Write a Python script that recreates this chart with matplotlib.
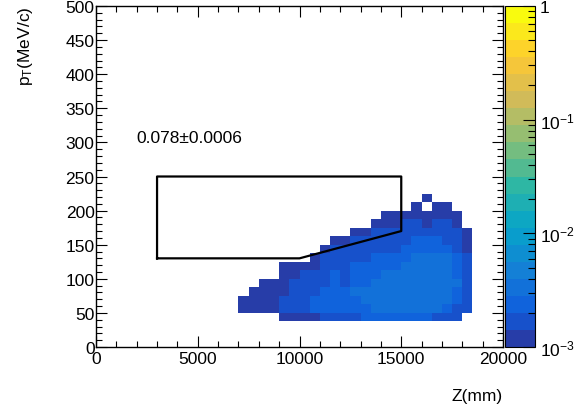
import numpy as np
import matplotlib
matplotlib.use("Agg")
import matplotlib.pyplot as plt
from matplotlib.colors import LinearSegmentedColormap, ListedColormap, LogNorm
from matplotlib.ticker import FixedLocator, LogLocator, NullFormatter, MultipleLocator

plt.rcParams['font.family'] = ['Liberation Sans', 'DejaVu Sans']
plt.rcParams['mathtext.fontset'] = 'custom'
plt.rcParams['mathtext.rm'] = 'Liberation Sans'
plt.rcParams['mathtext.it'] = 'Liberation Sans:italic'

# binning: 40 x 40 cells over Z 0..20000 mm and pT 0..500 MeV/c
z_edges = np.linspace(0, 20000, 41)
pt_edges = np.linspace(0, 500, 41)

# cell contents, one string per pT row (row 3 up to row 17),
# columns are Z bins 14..36; digit = colour band, 0 = empty
first_row = 3
first_col = 14
cell_rows = [
    "00001111222233333332220",
    "11112223333334444444322",
    "11112223333344444444432",
    "01111222333444444444432",
    "00111222232334444444442",
    "00001122232333444444432",
    "00001111222333334444432",
    "00000001222223333444432",
    "00000000122222223333321",
    "00000000011222222333221",
    "00000000000112222222221",
    "00000000000001112212210",
    "00000000000000111111110",
    "00000000000000000101100",
    "00000000000000000010000",
]
band_values = [0.0, 0.0012, 0.0017, 0.0024, 0.0033]

# selection polygon
poly_z = [3000, 3000, 15000, 15000, 10000, 3000]
poly_pt = [130, 250, 250, 170, 130, 130]
frac_text = "0.078\u00b10.0006"

H = np.zeros((40, 40))
for r, row in enumerate(cell_rows):
    for c, ch in enumerate(row):
        H[first_row + r, first_col + c] = band_values[int(ch)]
H = np.ma.masked_less_equal(H, 0)

# ROOT kBird palette, 20 contour levels
stops = [0.0, 0.125, 0.25, 0.375, 0.5, 0.625, 0.75, 0.875, 1.0]
red = [0.2082, 0.0592, 0.0780, 0.0232, 0.1802, 0.5301, 0.8186, 0.9956, 0.9764]
green = [0.1664, 0.3599, 0.5041, 0.6419, 0.7178, 0.7492, 0.7328, 0.7862, 0.9832]
blue = [0.5293, 0.8684, 0.8385, 0.7914, 0.6425, 0.4662, 0.3499, 0.1968, 0.0539]
bird = LinearSegmentedColormap.from_list(
    "bird", list(zip(stops, zip(red, green, blue))), N=255)
ncont = 20
cols = [bird(int((k + 0.99) * 255 / ncont) / 254) for k in range(ncont)]
cmap = ListedColormap(cols)

fig = plt.figure(figsize=(5.79, 4.14), dpi=100)
ax = fig.add_axes([96 / 579, 66 / 414, 407 / 579, 341 / 414])
cax = fig.add_axes([505 / 579, 66 / 414, 30 / 579, 341 / 414])

mesh = ax.pcolormesh(z_edges, pt_edges, H, cmap=cmap,
                     norm=LogNorm(vmin=1e-3, vmax=1), shading='flat')
ax.plot(poly_z, poly_pt, color='black', lw=1.6)
ax.text(2000, 300, frac_text, fontsize=12.5)

ax.set_xlim(0, 20000)
ax.set_ylim(0, 500)
ax.xaxis.set_major_locator(MultipleLocator(5000))
ax.xaxis.set_minor_locator(MultipleLocator(1000))
ax.yaxis.set_major_locator(MultipleLocator(50))
ax.yaxis.set_minor_locator(MultipleLocator(10))
ax.tick_params(which='both', direction='in', top=True, right=True,
               labelsize=12.5, width=0.8)
ax.tick_params(which='major', length=8)
ax.tick_params(which='minor', length=4)
ax.tick_params(axis='x', pad=3)
ax.tick_params(axis='y', pad=1)
for s in ax.spines.values():
    s.set_linewidth(1.0)

ax.set_xlabel("Z(mm)", fontsize=12.5, loc='right', labelpad=16)
ax.set_ylabel(r"p$_{\mathrm{T}}$(MeV/c)", fontsize=12.5, loc='top', labelpad=22)

cb = fig.colorbar(mesh, cax=cax)
cb.outline.set_linewidth(0.8)
cax.yaxis.set_major_locator(FixedLocator([1e-3, 1e-2, 1e-1, 1]))
cax.yaxis.set_minor_locator(LogLocator(base=10, subs=np.arange(2, 10)))
cax.yaxis.set_minor_formatter(NullFormatter())
cax.set_yticklabels([r"$10^{-3}$", r"$10^{-2}$", r"$10^{-1}$", "1"])
cax.tick_params(which='both', direction='in', right=True, left=False,
                labelsize=12.5, width=0.8)
cax.tick_params(which='major', length=9)
cax.tick_params(which='minor', length=5)

fig.savefig("out.png", dpi=100)
